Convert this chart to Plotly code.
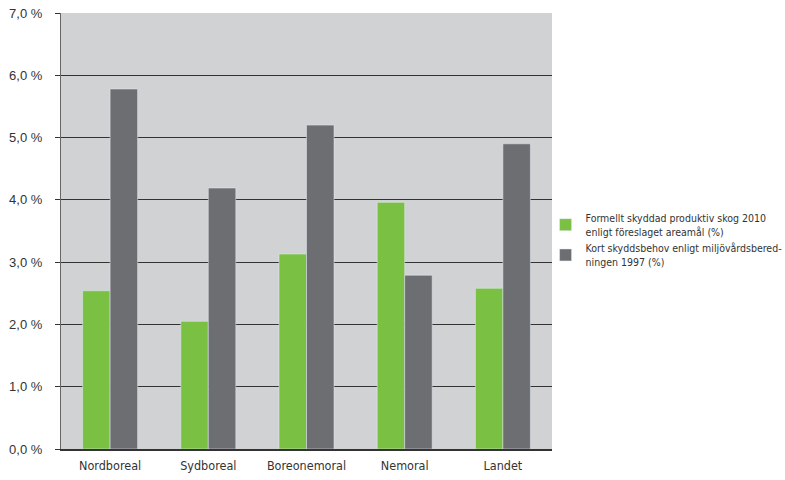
import plotly.graph_objects as go

categories = ["Nordboreal", "Sydboreal", "Boreonemoral", "Nemoral", "Landet"]
formellt = [2.54, 2.05, 3.13, 3.96, 2.58]
kort = [5.78, 4.19, 5.20, 2.79, 4.90]
series_names = [
    "Formellt skyddad produktiv skog 2010<br>enligt föreslaget areamål (%)",
    "Kort skyddsbehov enligt miljövårdsbered-<br>ningen 1997 (%)",
]
tickvals = [0, 1, 2, 3, 4, 5, 6, 7]
ticktext = ["0,0 %", "1,0 %", "2,0 %", "3,0 %", "4,0 %", "5,0 %", "6,0 %", "7,0 %"]

cond = "DejaVu Sans Condensed, Liberation Sans Narrow, Arial Narrow, sans-serif"

fig = go.Figure()
fig.add_trace(go.Bar(x=categories, y=formellt, name=series_names[0], marker_color="#7ac143"))
fig.add_trace(go.Bar(x=categories, y=kort, name=series_names[1], marker_color="#6d6e71"))

fig.update_layout(
    width=785, height=480,
    margin=dict(l=61, r=233, t=13, b=31, autoexpand=False),
    paper_bgcolor="white",
    plot_bgcolor="#d1d2d4",
    barmode="group",
    bargap=0.44,
    bargroupgap=0,
    showlegend=True,
    legend=dict(xref="container", yref="container", x=0.695, y=0.5,
                xanchor="left", yanchor="middle", bgcolor="rgba(0,0,0,0)",
                font=dict(family=cond, size=10.5, color="#333333"),
                tracegroupgap=6, itemwidth=30),
    xaxis=dict(showline=True, linecolor="#333333", linewidth=1.5,
               tickfont=dict(family=cond, size=12.5, color="#333333"),
               ticks="outside", ticklen=4, tickcolor="rgba(0,0,0,0)", showgrid=False),
    yaxis=dict(range=[0, 7], tickvals=tickvals, ticktext=ticktext,
               showgrid=True, gridcolor="#333333", gridwidth=1.2,
               showline=True, linecolor="#666666", linewidth=1.2,
               ticks="outside", ticklen=5, tickcolor="#333333",
               ticklabelstandoff=10,
               tickfont=dict(family="Liberation Sans, Arial, sans-serif", size=13, color="#333333"),
               zeroline=False),
)

fig.write_html("out.html", config={"displayModeBar": False},
               post_script="document.body.style.margin='0';")
